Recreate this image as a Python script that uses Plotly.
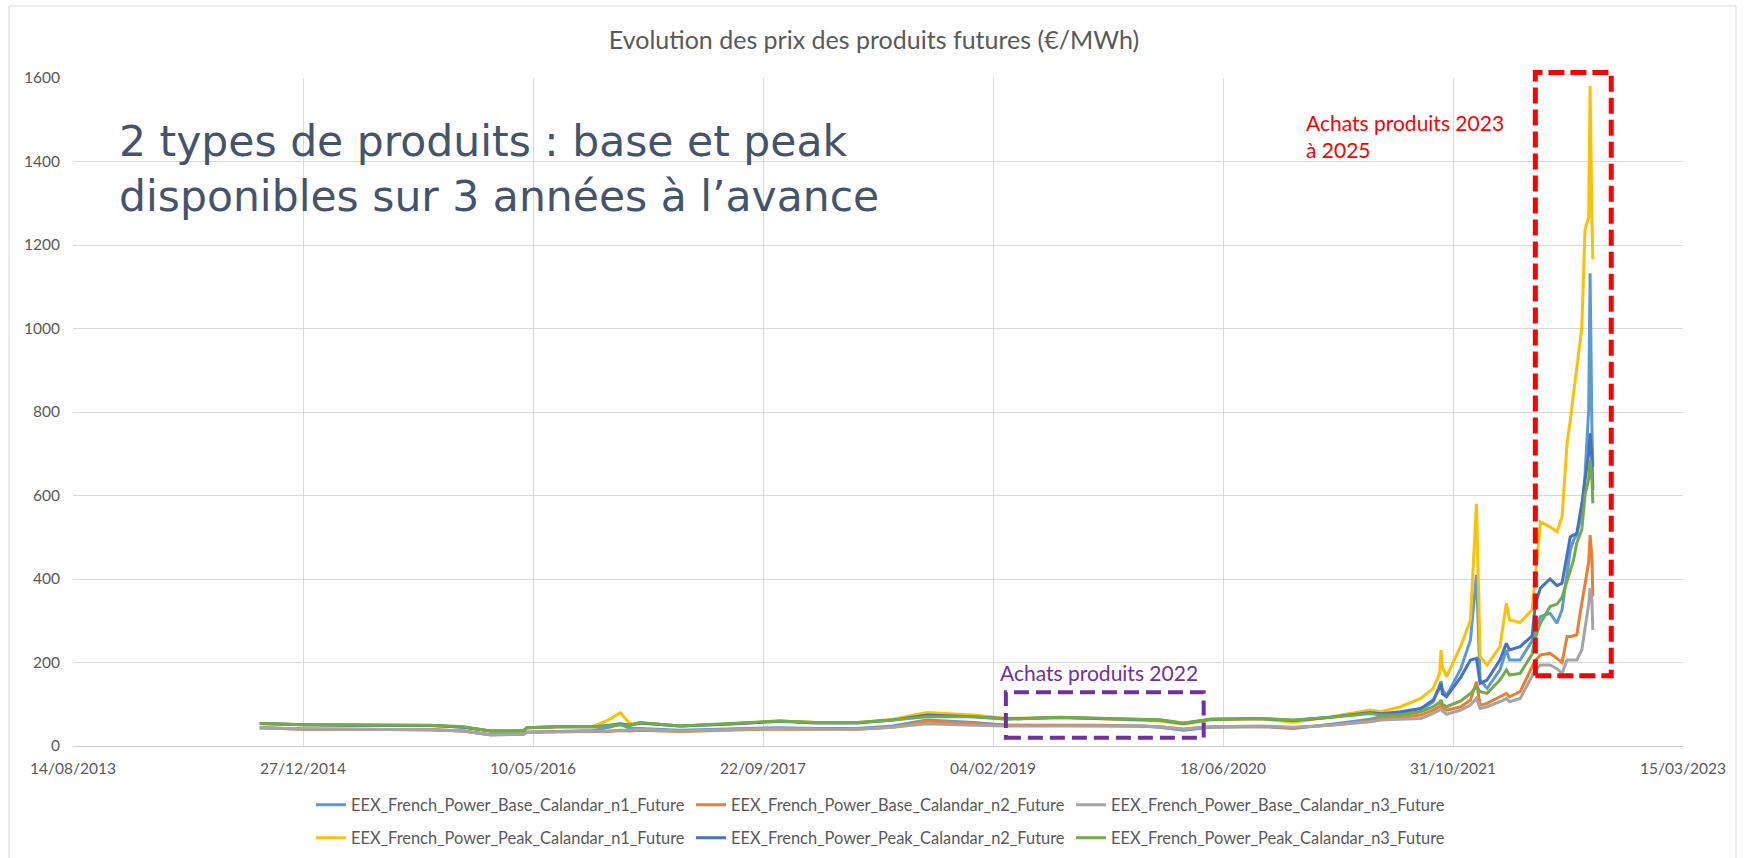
import plotly.graph_objects as go

# ---------------- data ----------------
dates = [
    "2014-09-24", "2014-12-27", "2015-04-01", "2015-07-01", "2015-10-01", "2015-12-11",
    "2016-02-07", "2016-04-19", "2016-04-27", "2016-07-01", "2016-09-18", "2016-10-20",
    "2016-11-16", "2016-12-07", "2016-12-29", "2017-03-26", "2017-07-01", "2017-10-29",
    "2018-01-15", "2018-04-14", "2018-07-01", "2018-09-13", "2018-12-24", "2019-03-06",
    "2019-06-30", "2019-09-15", "2019-12-20", "2020-02-01", "2020-03-24", "2020-05-22",
    "2020-09-07", "2020-11-18", "2021-02-08", "2021-05-04", "2021-05-27", "2021-07-09",
    "2021-08-22", "2021-09-18", "2021-10-02", "2021-10-05", "2021-10-08", "2021-10-17",
    "2021-11-17", "2021-12-08", "2021-12-21", "2021-12-29", "2022-01-13", "2022-02-10",
    "2022-02-24", "2022-03-03", "2022-03-26", "2022-04-21", "2022-04-28", "2022-05-09",
    "2022-05-30", "2022-06-14", "2022-06-25", "2022-07-06", "2022-07-13", "2022-07-20",
    "2022-07-27", "2022-08-07", "2022-08-14", "2022-08-22", "2022-08-25", "2022-08-29",
    "2022-08-31",
]

base_n1 = [44, 41, 40, 40, 39, 36, 27, 28, 33, 35, 37, 44, 52, 42, 42, 38, 40, 44,
           42, 42, 48, 62, 56, 50, 50, 50, 48, 45, 38, 45, 47, 42, 52, 64, 70, 78,
           86, 106, 145, 155, 135, 120, 185, 254, 410, 158, 138, 182, 230, 206, 206, 252,
           280, 310, 318, 294, 326, 410, 469, 493, 505, 560, 650, 805, 1132, 765, 669]
base_n2 = [44, 40, 40, 40, 39, 36, 27, 28, 33, 34, 34, 35, 37, 36, 38, 35, 38, 41,
           40, 40, 45, 60, 54, 50, 49, 49, 48, 46, 40, 46, 47, 44, 50, 60, 66, 69,
           74, 86, 95, 100, 92, 86, 94, 110, 154, 98, 102, 118, 126, 118, 130, 190,
           205, 218, 222, 210, 200, 262, 262, 264, 266, 342, 390, 440, 505, 454, 358]
base_n3 = [44, 41, 40, 40, 39, 36, 27, 28, 33, 34, 35, 36, 38, 38, 40, 36, 39, 42,
           40, 40, 45, 53, 50, 48, 48, 48, 48, 46, 41, 46, 48, 45, 50, 58, 62, 64,
           66, 78, 85, 88, 84, 76, 86, 98, 114, 90, 94, 106, 114, 106, 114, 168,
           182, 194, 194, 185, 174, 206, 206, 206, 206, 230, 278, 340, 378, 350, 278]
peak_n1 = [54, 51, 50, 50, 49, 45, 36, 36, 44, 46, 47, 62, 80, 53, 55, 48, 52, 60,
           56, 56, 64, 80, 74, 66, 68, 66, 63, 60, 52, 62, 65, 57, 70, 86, 82, 94,
           114, 138, 174, 230, 190, 166, 240, 302, 580, 214, 194, 238, 342, 302, 296, 326,
           405, 537, 525, 513, 549, 725, 781, 837, 905, 1000, 1236, 1268, 1581, 1268, 1166]
peak_n2 = [54, 51, 50, 50, 49, 45, 36, 36, 44, 46, 46, 49, 53, 50, 55, 48, 52, 59,
           55, 55, 62, 74, 70, 65, 68, 66, 64, 62, 54, 64, 66, 61, 69, 80, 77, 82,
           90, 110, 140, 150, 125, 118, 165, 206, 210, 150, 158, 206, 246, 230, 238, 264,
           340, 378, 400, 384, 390, 453, 501, 505, 509, 580, 640, 700, 749, 685, 613]
peak_n3 = [54, 51, 51, 50, 50, 46, 36, 36, 44, 46, 46, 48, 51, 50, 56, 48, 53, 60,
           56, 56, 62, 70, 70, 64, 69, 67, 65, 63, 55, 64, 66, 62, 69, 78, 74, 74,
           82, 94, 105, 110, 100, 94, 108, 126, 142, 130, 126, 158, 182, 170, 174, 220,
           260, 294, 334, 340, 356, 398, 420, 445, 486, 518, 600, 640, 685, 640, 581]

series_names = [
    "EEX_French_Power_Base_Calandar_n1_Future",
    "EEX_French_Power_Base_Calandar_n2_Future",
    "EEX_French_Power_Base_Calandar_n3_Future",
    "EEX_French_Power_Peak_Calandar_n1_Future",
    "EEX_French_Power_Peak_Calandar_n2_Future",
    "EEX_French_Power_Peak_Calandar_n3_Future",
]
series_values = [base_n1, base_n2, base_n3, peak_n1, peak_n2, peak_n3]
series_colors = ["#5B9BD5", "#ED7D31", "#A5A5A5", "#FFC000", "#4472C4", "#70AD47"]
series_legend = ["legend", "legend", "legend", "legend2", "legend2", "legend2"]

y_ticks = [0, 200, 400, 600, 800, 1000, 1200, 1400, 1600]
x_start, x_end = "2013-08-14", "2023-03-15"
x_tick_days = 500

title_text = "Evolution des prix des produits futures (€/MWh)"
big_text = "2 types de produits : base et peak<br>disponibles sur 3 années à l’avance"
red_text = "Achats produits 2023<br>à 2025"
purple_text = "Achats produits 2022"

red_box = dict(start="2022-04-28", end="2022-10-10", low=168, high=1613)
purple_box = dict(start="2019-03-04", end="2020-05-07", low=20, high=129)

# ---------------- figure ----------------
FONT = "Lato, Calibri, sans-serif"
BIG_FONT = "DejaVu Sans, Lato, sans-serif"
GREY_TXT = "#595959"

W, H = 1748, 858
ML, MR, MT, MB = 73, 65, 78, 112
PW, PH = W - ML - MR, H - MT - MB


def px_x(px):
    return (px - ML) / PW


def px_y(py):
    return (H - MB - py) / PH


fig = go.Figure()
for name, vals, color, lg in zip(series_names, series_values, series_colors, series_legend):
    fig.add_trace(go.Scatter(
        x=dates, y=vals, name=name, mode="lines",
        line=dict(color=color, width=3), legend=lg,
    ))

legend_common = dict(orientation="h", x=px_x(311), xanchor="left", yanchor="middle",
                     entrywidth=335, entrywidthmode="pixels", traceorder="normal",
                     font=dict(family=FONT, size=16.4, color=GREY_TXT),
                     bgcolor="rgba(0,0,0,0)")

fig.update_layout(
    width=W, height=H,
    margin=dict(l=ML, r=MR, t=MT, b=MB, autoexpand=False),
    paper_bgcolor="white", plot_bgcolor="white",
    font=dict(family=FONT, color=GREY_TXT, size=15.5),
    title=dict(text=title_text, x=0.5, xref="container", xanchor="center",
               y=1 - 40 / H, yref="container", yanchor="middle",
               font=dict(family=FONT, size=25, color=GREY_TXT)),
    xaxis=dict(
        type="date", range=[x_start, x_end],
        tick0=x_start, dtick=x_tick_days * 86400000, tickformat="%d/%m/%Y",
        showgrid=True, gridcolor="#D9D9D9", gridwidth=1,
        showline=True, linecolor="#D0D0D0", linewidth=1,
        ticks="", ticklabelstandoff=8,
        tickfont=dict(family=FONT, size=15.5, color=GREY_TXT),
        zeroline=False,
    ),
    yaxis=dict(
        range=[0, 1600], tickvals=y_ticks,
        showgrid=True, gridcolor="#D9D9D9", gridwidth=1,
        showline=False, zeroline=False, ticks="", ticklabelstandoff=12,
        tickfont=dict(family=FONT, size=15.5, color=GREY_TXT),
    ),
    legend=dict(legend_common, y=px_y(805)),
    legend2=dict(legend_common, y=px_y(838)),
    showlegend=True,
)

# chart frame
fig.add_shape(type="rect", xref="paper", yref="paper",
              x0=px_x(9), x1=px_x(1736), y0=px_y(880), y1=px_y(6),
              line=dict(color="#D9D9D9", width=1), fillcolor="rgba(0,0,0,0)", layer="below")

# highlight boxes
fig.add_shape(type="rect", xref="x", yref="paper",
              x0=red_box["start"], x1=red_box["end"],
              y0=red_box["low"] / 1600, y1=red_box["high"] / 1600,
              line=dict(color="#FF0000", width=5, dash="16px,6px"))
fig.add_shape(type="rect", xref="x", yref="y",
              x0=purple_box["start"], x1=purple_box["end"],
              y0=purple_box["low"], y1=purple_box["high"],
              line=dict(color="#7030A0", width=4, dash="15px,7px"))

# annotations
fig.add_annotation(text=big_text, xref="paper", yref="paper",
                   x=px_x(117), y=px_y(169), xanchor="left", yanchor="middle",
                   align="left", showarrow=False,
                   font=dict(family=BIG_FONT, size=42.5, color="#44546A"))
fig.add_annotation(text=red_text, xref="paper", yref="paper",
                   x=px_x(1304), y=px_y(136), xanchor="left", yanchor="middle",
                   align="left", showarrow=False,
                   font=dict(family=FONT, size=21, color="#FF0000"))
fig.add_annotation(text=purple_text, xref="paper", yref="paper",
                   x=px_x(998), y=px_y(672), xanchor="left", yanchor="middle",
                   align="left", showarrow=False,
                   font=dict(family=FONT, size=21, color="#7030A0"))

fig.write_html("out.html", config={"displayModeBar": False},
               post_script="document.body.style.margin='0px';")
